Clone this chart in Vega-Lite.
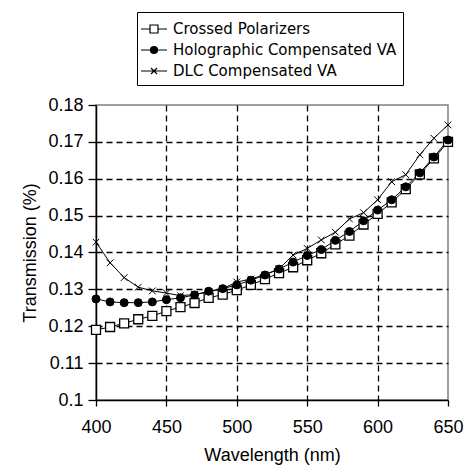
{
  "$schema": "https://vega.github.io/schema/vega-lite/v6.json",
  "width": 352,
  "height": 295,
  "autosize": {"type": "none"},
  "padding": {"left": 96, "top": 105, "right": 19, "bottom": 71},
  "background": "white",
  "config": {
    "view": {"stroke": "#808080", "strokeWidth": 1.5},
    "font": "Liberation Sans"
  },
  "data": {
    "values": [
      {"wl": 400, "series": "Crossed Polarizers", "t": 0.119},
      {"wl": 410, "series": "Crossed Polarizers", "t": 0.1198},
      {"wl": 420, "series": "Crossed Polarizers", "t": 0.1208},
      {"wl": 430, "series": "Crossed Polarizers", "t": 0.1219},
      {"wl": 440, "series": "Crossed Polarizers", "t": 0.1228},
      {"wl": 450, "series": "Crossed Polarizers", "t": 0.1241},
      {"wl": 460, "series": "Crossed Polarizers", "t": 0.1252},
      {"wl": 470, "series": "Crossed Polarizers", "t": 0.1263},
      {"wl": 480, "series": "Crossed Polarizers", "t": 0.1277},
      {"wl": 490, "series": "Crossed Polarizers", "t": 0.1286},
      {"wl": 500, "series": "Crossed Polarizers", "t": 0.1298},
      {"wl": 510, "series": "Crossed Polarizers", "t": 0.1312},
      {"wl": 520, "series": "Crossed Polarizers", "t": 0.1328},
      {"wl": 530, "series": "Crossed Polarizers", "t": 0.1344},
      {"wl": 540, "series": "Crossed Polarizers", "t": 0.136},
      {"wl": 550, "series": "Crossed Polarizers", "t": 0.1379},
      {"wl": 560, "series": "Crossed Polarizers", "t": 0.1398},
      {"wl": 570, "series": "Crossed Polarizers", "t": 0.1422},
      {"wl": 580, "series": "Crossed Polarizers", "t": 0.1446},
      {"wl": 590, "series": "Crossed Polarizers", "t": 0.1476},
      {"wl": 600, "series": "Crossed Polarizers", "t": 0.1505},
      {"wl": 610, "series": "Crossed Polarizers", "t": 0.1536},
      {"wl": 620, "series": "Crossed Polarizers", "t": 0.1572},
      {"wl": 630, "series": "Crossed Polarizers", "t": 0.1612},
      {"wl": 640, "series": "Crossed Polarizers", "t": 0.1655},
      {"wl": 650, "series": "Crossed Polarizers", "t": 0.17},
      {"wl": 400, "series": "Holographic Compensated VA", "t": 0.1274},
      {"wl": 410, "series": "Holographic Compensated VA", "t": 0.1266},
      {"wl": 420, "series": "Holographic Compensated VA", "t": 0.1264},
      {"wl": 430, "series": "Holographic Compensated VA", "t": 0.1264},
      {"wl": 440, "series": "Holographic Compensated VA", "t": 0.1266},
      {"wl": 450, "series": "Holographic Compensated VA", "t": 0.1272},
      {"wl": 460, "series": "Holographic Compensated VA", "t": 0.1277},
      {"wl": 470, "series": "Holographic Compensated VA", "t": 0.1285},
      {"wl": 480, "series": "Holographic Compensated VA", "t": 0.1295},
      {"wl": 490, "series": "Holographic Compensated VA", "t": 0.1302},
      {"wl": 500, "series": "Holographic Compensated VA", "t": 0.1312},
      {"wl": 510, "series": "Holographic Compensated VA", "t": 0.1325},
      {"wl": 520, "series": "Holographic Compensated VA", "t": 0.1339},
      {"wl": 530, "series": "Holographic Compensated VA", "t": 0.1355},
      {"wl": 540, "series": "Holographic Compensated VA", "t": 0.1374},
      {"wl": 550, "series": "Holographic Compensated VA", "t": 0.1392},
      {"wl": 560, "series": "Holographic Compensated VA", "t": 0.1408},
      {"wl": 570, "series": "Holographic Compensated VA", "t": 0.1433},
      {"wl": 580, "series": "Holographic Compensated VA", "t": 0.1457},
      {"wl": 590, "series": "Holographic Compensated VA", "t": 0.1486},
      {"wl": 600, "series": "Holographic Compensated VA", "t": 0.1515},
      {"wl": 610, "series": "Holographic Compensated VA", "t": 0.1543},
      {"wl": 620, "series": "Holographic Compensated VA", "t": 0.1578},
      {"wl": 630, "series": "Holographic Compensated VA", "t": 0.1616},
      {"wl": 640, "series": "Holographic Compensated VA", "t": 0.1659},
      {"wl": 650, "series": "Holographic Compensated VA", "t": 0.1705},
      {"wl": 400, "series": "DLC Compensated VA", "t": 0.1428},
      {"wl": 410, "series": "DLC Compensated VA", "t": 0.1372},
      {"wl": 420, "series": "DLC Compensated VA", "t": 0.1332},
      {"wl": 430, "series": "DLC Compensated VA", "t": 0.1306},
      {"wl": 440, "series": "DLC Compensated VA", "t": 0.1296},
      {"wl": 450, "series": "DLC Compensated VA", "t": 0.129},
      {"wl": 460, "series": "DLC Compensated VA", "t": 0.1283},
      {"wl": 470, "series": "DLC Compensated VA", "t": 0.1286},
      {"wl": 480, "series": "DLC Compensated VA", "t": 0.1293},
      {"wl": 490, "series": "DLC Compensated VA", "t": 0.1302},
      {"wl": 500, "series": "DLC Compensated VA", "t": 0.132},
      {"wl": 510, "series": "DLC Compensated VA", "t": 0.1328},
      {"wl": 520, "series": "DLC Compensated VA", "t": 0.134},
      {"wl": 530, "series": "DLC Compensated VA", "t": 0.1356},
      {"wl": 540, "series": "DLC Compensated VA", "t": 0.1393},
      {"wl": 550, "series": "DLC Compensated VA", "t": 0.1411},
      {"wl": 560, "series": "DLC Compensated VA", "t": 0.1434},
      {"wl": 570, "series": "DLC Compensated VA", "t": 0.1455},
      {"wl": 580, "series": "DLC Compensated VA", "t": 0.1491},
      {"wl": 590, "series": "DLC Compensated VA", "t": 0.1508},
      {"wl": 600, "series": "DLC Compensated VA", "t": 0.1543},
      {"wl": 610, "series": "DLC Compensated VA", "t": 0.1592},
      {"wl": 620, "series": "DLC Compensated VA", "t": 0.1611},
      {"wl": 630, "series": "DLC Compensated VA", "t": 0.1665},
      {"wl": 640, "series": "DLC Compensated VA", "t": 0.171},
      {"wl": 650, "series": "DLC Compensated VA", "t": 0.1746}
    ]
  },
  "encoding": {
    "x": {
      "field": "wl",
      "type": "quantitative",
      "scale": {"domain": [400, 650], "nice": false, "zero": false},
      "axis": {
        "values": [400, 450, 500, 550, 600, 650],
        "title": "Wavelength (nm)",
        "grid": true,
        "gridColor": "black",
        "gridDash": [6, 4],
        "gridWidth": 1.3,
        "gridOpacity": {"condition": {"test": "datum.value <= 400 || datum.value >= 650", "value": 0}, "value": 1},
        "domainColor": "black",
        "domainWidth": 1.5,
        "tickColor": "black",
        "tickWidth": 1.3,
        "tickSize": 6,
        "labelPadding": 12,
        "labelFontSize": 18,
        "labelColor": "black",
        "labelFlush": false,
        "labelOverlap": false,
        "titleFontSize": 18,
        "titleFontWeight": "normal",
        "titleColor": "black",
        "titlePadding": 10
      }
    },
    "y": {
      "field": "t",
      "type": "quantitative",
      "scale": {"domain": [0.1, 0.18], "nice": false, "zero": false},
      "axis": {
        "values": [0.1, 0.11, 0.12, 0.13, 0.14, 0.15, 0.16, 0.17, 0.18],
        "format": ".2~f",
        "title": "Transmission (%)",
        "grid": true,
        "gridColor": "black",
        "gridDash": [6, 4],
        "gridWidth": 1.3,
        "gridOpacity": {"condition": {"test": "datum.value <= 0.1001 || datum.value >= 0.1799", "value": 0}, "value": 1},
        "domainColor": "black",
        "domainWidth": 1.5,
        "tickColor": "black",
        "tickWidth": 1.3,
        "tickSize": 8,
        "labelPadding": 5,
        "labelFontSize": 18,
        "labelColor": "black",
        "labelFlush": false,
        "labelOverlap": false,
        "titleFontSize": 18,
        "titleFontWeight": "normal",
        "titleColor": "black",
        "titlePadding": 8
      }
    }
  },
  "layer": [
    {
      "mark": {"type": "line", "color": "black", "strokeWidth": 1},
      "encoding": {"detail": {"field": "series", "type": "nominal"}}
    },
    {
      "transform": [{"filter": "datum.series == 'Crossed Polarizers'"}],
      "mark": {"type": "point", "shape": "square", "size": 81, "fill": "white", "stroke": "black", "strokeWidth": 1.3, "opacity": 1, "filled": false}
    },
    {
      "transform": [{"filter": "datum.series == 'Holographic Compensated VA'"}],
      "mark": {"type": "point", "shape": "circle", "size": 64, "fill": "black", "stroke": "black", "strokeWidth": 1, "opacity": 1, "filled": true}
    },
    {
      "transform": [{"filter": "datum.series == 'DLC Compensated VA'"}],
      "mark": {"type": "point", "shape": "M-1,-1L1,1M-1,1L1,-1", "size": 45, "fill": "transparent", "stroke": "black", "strokeWidth": 1, "opacity": 1}
    },
    {
      "mark": {"type": "point", "opacity": 0, "stroke": "black"},
      "encoding": {
        "shape": {
          "field": "series",
          "type": "nominal",
          "scale": {
            "domain": ["Crossed Polarizers", "Holographic Compensated VA", "DLC Compensated VA"],
            "range": [
              "M-1.3,0H-0.4M0.4,0H1.3M-0.4,-0.4H0.4V0.4H-0.4Z",
              "M-1.3,0H1.3M-0.35,0A0.35,0.35,0,1,0,0.35,0A0.35,0.35,0,1,0,-0.35,0ZM-0.26,0A0.26,0.26,0,1,0,0.26,0A0.26,0.26,0,1,0,-0.26,0ZM-0.17,0A0.17,0.17,0,1,0,0.17,0A0.17,0.17,0,1,0,-0.17,0ZM-0.08,0A0.08,0.08,0,1,0,0.08,0A0.08,0.08,0,1,0,-0.08,0ZM-0.3,-0.15H0.3M-0.3,0.15H0.3M-0.15,-0.3V0.3M0.15,-0.3V0.3",
              "M-1.3,0H1.3M-0.3,-0.3L0.3,0.3M-0.3,0.3L0.3,-0.3"
            ]
          },
          "legend": {
            "title": null,
            "orient": "none",
            "legendX": 41,
            "legendY": -93,
            "padding": 6,
            "strokeColor": "black",
            "fillColor": "white",
            "rowPadding": 2,
            "symbolSize": 400,
            "symbolStrokeWidth": 1.2,
            "labelFont": "DejaVu Sans",
            "labelFontSize": 15,
            "labelColor": "black",
            "labelOffset": 8,
            "labelLimit": 400,
            "encode": {
              "symbols": {
                "update": {
                  "opacity": {"value": 1},
                  "fillOpacity": {"value": 1},
                  "strokeOpacity": {"value": 1},
                  "fill": {"value": "white"},
                  "stroke": {"value": "black"},
                  "strokeWidth": {"value": 1.3},
                  "size": {"value": 400}
                }
              }
            }
          }
        }
      }
    }
  ]
}
